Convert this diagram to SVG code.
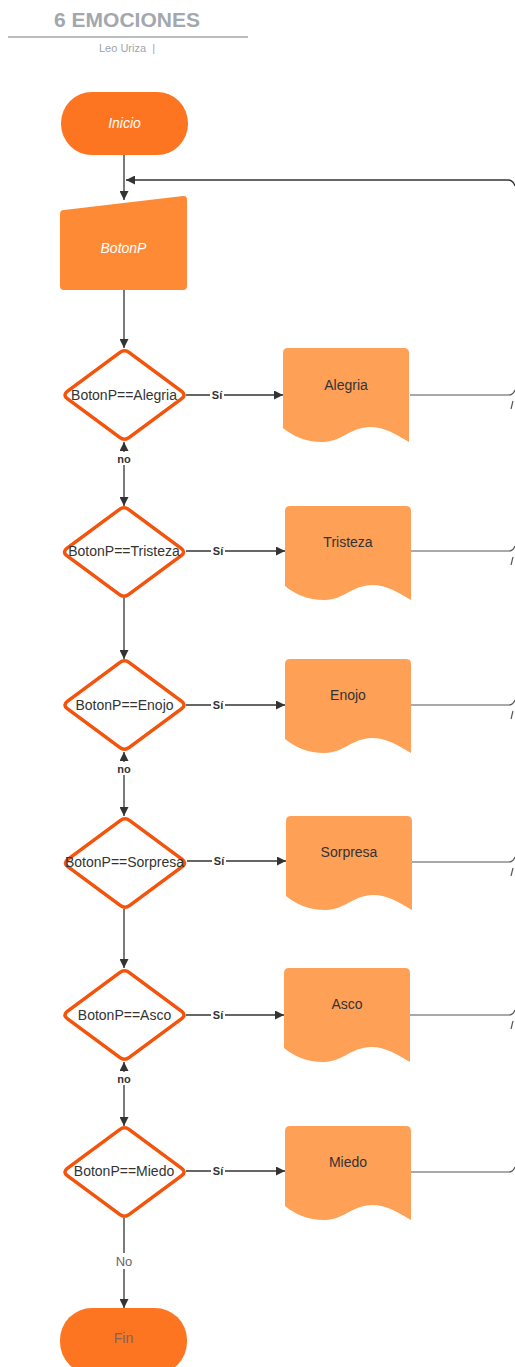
<svg xmlns="http://www.w3.org/2000/svg" xmlns:xlink="http://www.w3.org/1999/xlink" width="515" height="1367" viewBox="0 0 515 1367">
<style>
.t{font-family:"Liberation Sans",Arial,sans-serif;}
.dia{fill:#ffffff;stroke:#f4530c;stroke-width:3.5;}
.doc{fill:#ffa057;}
.dt{font-family:"Liberation Sans",Arial,sans-serif;font-size:14px;fill:#333333;text-anchor:middle;}
.ln{fill:none;stroke:#333333;stroke-width:1.3;}
.lnr{fill:none;stroke:#555555;stroke-width:1.2;}
.si{font-family:"Liberation Sans",Arial,sans-serif;font-size:11px;font-weight:bold;fill:#333333;text-anchor:middle;}
</style>
<defs>
<marker id="ah" viewBox="0 0 10 10" refX="10" refY="5" markerWidth="9" markerHeight="9" markerUnits="userSpaceOnUse" orient="auto-start-reverse">
<path d="M0,0 L10,5 L0,10 Z" fill="#333333"/>
</marker>
<path id="dshape" d="M -4.8,-42.4 Q 0,-46 4.8,-42.4 L 57.2,-3.6 Q 62,0 57.2,3.6 L 4.8,42.4 Q 0,46 -4.8,42.4 L -57.2,3.6 Q -62,0 -57.2,-3.6 Z"/>
<path id="docshape" d="M0,5 Q0,0 5,0 L121,0 Q126,0 126,5 L126,94 C112,86 102,79 87,79 C68,79 58,94 40,94 C22,94 10,88 0,80 Z"/>
</defs>

<g id="title">
<text class="t" x="127" y="27" font-size="21" font-weight="bold" fill="#a3a7ae" text-anchor="middle">6 EMOCIONES</text>
<line x1="8" y1="37" x2="248" y2="37" stroke="#a3a7ae" stroke-width="1.5"/>
<text class="t" x="127" y="52" font-size="11" fill="#a0a4aa" text-anchor="middle" xml:space="preserve">Leo Uriza  |</text>
</g>

<g id="connectors">
<path class="ln" d="M124,155 L124,200" marker-end="url(#ah)"/>
<path class="ln" d="M515,186 Q513,180 508,180 L126,180" marker-end="url(#ah)"/>
<path class="ln" d="M124,290 L124,348" marker-end="url(#ah)"/>
<path class="ln" d="M186,395 L283,395" marker-end="url(#ah)"/>
<path class="ln" d="M186,551 L285,551" marker-end="url(#ah)"/>
<path class="ln" d="M186,705 L285,705" marker-end="url(#ah)"/>
<path class="ln" d="M187,861 L286,861" marker-end="url(#ah)"/>
<path class="ln" d="M186,1015 L284,1015" marker-end="url(#ah)"/>
<path class="ln" d="M186,1171 L285,1171" marker-end="url(#ah)"/>
<path class="ln" d="M124,442 L124,506" marker-start="url(#ah)" marker-end="url(#ah)"/>
<path class="ln" d="M124,598 L124,659" marker-end="url(#ah)"/>
<path class="ln" d="M124,752 L124,816" marker-start="url(#ah)" marker-end="url(#ah)"/>
<path class="ln" d="M124,909 L124,968" marker-end="url(#ah)"/>
<path class="ln" d="M124,1062 L124,1126" marker-start="url(#ah)" marker-end="url(#ah)"/>
<path class="ln" d="M124,1218 L124,1308" marker-end="url(#ah)"/>
<path class="lnr" d="M410,395 L509,395 Q513,395 515,390"/>
<path class="lnr" d="M513,401 L511,409"/>
<path class="lnr" d="M411,551 L509,551 Q513,551 515,546"/>
<path class="lnr" d="M513,557 L511,565"/>
<path class="lnr" d="M411,705 L509,705 Q513,705 515,700"/>
<path class="lnr" d="M513,711 L511,719"/>
<path class="lnr" d="M412,862 L509,862 Q513,862 515,857"/>
<path class="lnr" d="M513,868 L511,876"/>
<path class="lnr" d="M410,1015 L509,1015 Q513,1015 515,1010"/>
<path class="lnr" d="M513,1021 L511,1029"/>
<path class="lnr" d="M411,1172 L509,1172 Q513,1172 515,1167"/>
<rect x="210" y="388" width="14" height="12" fill="#ffffff"/>
<text class="si" x="217" y="399">Sí</text>
<rect x="211" y="544" width="14" height="12" fill="#ffffff"/>
<text class="si" x="218" y="555">Sí</text>
<rect x="211" y="698" width="14" height="12" fill="#ffffff"/>
<text class="si" x="218" y="709">Sí</text>
<rect x="212" y="854" width="14" height="12" fill="#ffffff"/>
<text class="si" x="219" y="865">Sí</text>
<rect x="211" y="1008" width="14" height="12" fill="#ffffff"/>
<text class="si" x="218" y="1019">Sí</text>
<rect x="211" y="1164" width="14" height="12" fill="#ffffff"/>
<text class="si" x="218" y="1175">Sí</text>
<rect x="114" y="452" width="20" height="13" fill="#ffffff"/>
<text class="si" x="124" y="463">no</text>
<rect x="114" y="762" width="20" height="13" fill="#ffffff"/>
<text class="si" x="124" y="773">no</text>
<rect x="114" y="1072" width="20" height="13" fill="#ffffff"/>
<text class="si" x="124" y="1083">no</text>
<rect x="112" y="1253" width="24" height="16" fill="#ffffff"/>
<text class="t" x="124" y="1266" font-size="13" fill="#666666" text-anchor="middle">No</text>
</g>

<g id="inicio">
<rect x="61" y="92" width="127" height="63" rx="31" ry="31" fill="#fd7520"/>
<text class="t" x="124.5" y="128" font-size="14" font-style="italic" fill="#ffffff" text-anchor="middle">Inicio</text>
</g>

<g id="botonp">
<path d="M60,214 Q60,210 64,210 L183,196 Q187,195.5 187,200 L187,286 Q187,290 183,290 L64,290 Q60,290 60,286 Z" fill="#ff8a36"/>
<text class="t" x="123.5" y="253" font-size="14" font-style="italic" fill="#ffffff" text-anchor="middle">BotonP</text>
</g>

<g id="d1"><use xlink:href="#dshape" class="dia" transform="translate(124.5,395)"/><text class="dt" x="124" y="400">BotonP==Alegria</text></g>
<g id="d2"><use xlink:href="#dshape" class="dia" transform="translate(124,552)"/><text class="dt" x="124" y="556">BotonP==Tristeza</text></g>
<g id="d3"><use xlink:href="#dshape" class="dia" transform="translate(124.5,705)"/><text class="dt" x="124.5" y="709.5">BotonP==Enojo</text></g>
<g id="d4"><use xlink:href="#dshape" class="dia" transform="translate(125,863)"/><text class="dt" x="124.5" y="866.5">BotonP==Sorpresa</text></g>
<g id="d5"><use xlink:href="#dshape" class="dia" transform="translate(124.5,1015)"/><text class="dt" x="124.5" y="1019.5">BotonP==Asco</text></g>
<g id="d6"><use xlink:href="#dshape" class="dia" transform="translate(124.5,1172)"/><text class="dt" x="124" y="1175.5">BotonP==Miedo</text></g>

<g id="alegria"><use xlink:href="#docshape" class="doc" transform="translate(283,348)"/><text class="dt" x="346" y="390">Alegria</text></g>
<g id="tristeza"><use xlink:href="#docshape" class="doc" transform="translate(285,506)"/><text class="dt" x="348" y="547">Tristeza</text></g>
<g id="enojo"><use xlink:href="#docshape" class="doc" transform="translate(285,659)"/><text class="dt" x="348" y="700">Enojo</text></g>
<g id="sorpresa"><use xlink:href="#docshape" class="doc" transform="translate(286,816)"/><text class="dt" x="349" y="857">Sorpresa</text></g>
<g id="asco"><use xlink:href="#docshape" class="doc" transform="translate(284,968)"/><text class="dt" x="347" y="1009">Asco</text></g>
<g id="miedo"><use xlink:href="#docshape" class="doc" transform="translate(285,1126)"/><text class="dt" x="348" y="1167">Miedo</text></g>

<g id="fin">
<rect x="60" y="1308" width="127" height="66" rx="32" ry="32" fill="#fd7520"/>
<text class="t" x="123.5" y="1343" font-size="14" fill="#7a6560" text-anchor="middle">Fin</text>
</g>
</svg>
